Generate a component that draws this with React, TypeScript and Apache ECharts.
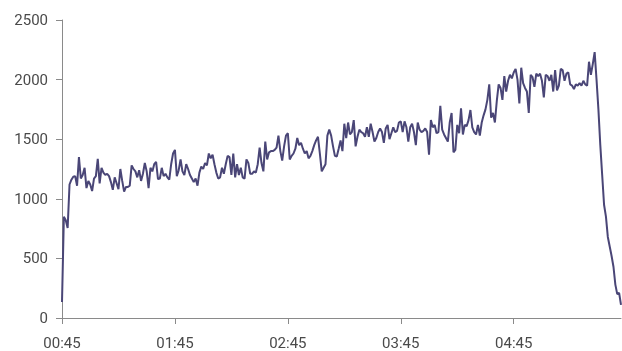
import React, { useEffect, useRef } from "react";
import * as echarts from "echarts";

// Start time of the series (seconds) and sampling step (seconds)
const startSeconds = 45;
const stepSeconds = 1;

// y-axis ticks
const yTicks = [0, 500, 1000, 1500, 2000, 2500];

// Series values (one sample per second)
const seg1 = [
  134, 850, 820, 755, 1120, 1160, 1185, 1190, 1110, 1350,
  1170, 1200, 1260, 1090, 1150, 1120, 1065, 1170, 1190, 1335,
  1130, 1260, 1220, 1200, 1210, 1190, 1140, 1075, 1180, 1130,
  1080, 1250, 1150, 1060, 1100, 1100, 1110, 1280, 1250, 1230,
  1180, 1240, 1150, 1210, 1300, 1230, 1090, 1260, 1230, 1290,
  1310, 1165, 1170, 1260, 1190, 1210, 1180, 1160, 1290, 1380,
];
const seg2 = [
  1410, 1190, 1240, 1330, 1230, 1200, 1290, 1250, 1200, 1170,
  1140, 1170, 1110, 1220, 1270, 1250, 1300, 1280, 1380, 1340,
  1370, 1290, 1220, 1170, 1180, 1260, 1210, 1290, 1360, 1350,
  1200, 1380, 1180, 1290, 1200, 1260, 1180, 1170, 1330, 1300,
  1210, 1210, 1230, 1220, 1290, 1430, 1300, 1230, 1480, 1330,
  1390, 1400, 1400, 1410, 1430, 1530, 1400, 1320, 1440, 1530,
];
const seg3 = [
  1550, 1330, 1360, 1380, 1420, 1510, 1450, 1470, 1420, 1380,
  1400, 1340, 1360, 1400, 1450, 1490, 1520, 1380, 1230, 1260,
  1290, 1530, 1580, 1530, 1440, 1360, 1355, 1420, 1490, 1400,
  1630, 1510, 1640, 1540, 1560, 1660, 1440, 1520, 1580, 1560,
  1550, 1520, 1600, 1520, 1630, 1560, 1480, 1510, 1560, 1590,
  1560, 1470, 1590, 1620, 1500, 1550, 1600, 1560, 1570, 1640,
];
const seg4 = [
  1650, 1560, 1650, 1600, 1480, 1600, 1630, 1560, 1450, 1640,
  1580, 1560, 1570, 1590, 1560, 1370, 1660, 1600, 1620, 1550,
  1560, 1780, 1580, 1540, 1510, 1480, 1640, 1720, 1390, 1410,
  1620, 1550, 1760, 1540, 1620, 1610, 1660, 1745, 1600, 1560,
  1540, 1620, 1530, 1640, 1700, 1750, 1830, 1960, 1680, 1720,
  1640, 1820, 1960, 1930, 1830, 2030, 1900, 1990, 2040, 2010,
];
const seg5 = [
  2060, 2090, 2000, 1800, 2100, 1970, 1930, 1900, 1720, 2040,
  2020, 1940, 2050, 2030, 2050, 1990, 1850, 2040, 2030, 1990,
  2040, 1900, 2080, 1910, 1950, 2090, 2080, 1990, 2050, 2060,
  1960, 1950, 1920, 1960, 1950, 1970, 1950, 1990, 1960, 1950,
  2150, 2040, 2130, 2230, 2000, 1750, 1450, 1200, 950, 850,
  680, 600, 520, 430, 280, 200, 210, 110,
];
const values = [...seg1, ...seg2, ...seg3, ...seg4, ...seg5];

const pad = (n: number) => (n < 10 ? "0" + n : "" + n);
const categories = values.map((_, i) => {
  const s = startSeconds + i * stepSeconds;
  return pad(Math.floor(s / 60)) + ":" + pad(s % 60);
});

export default function App() {
  const ref = useRef<HTMLDivElement>(null);
  useEffect(() => {
    if (!ref.current) return;
    const chart = echarts.init(ref.current, undefined, { renderer: "svg" });
    const font = "Roboto, 'Liberation Sans', Arial, sans-serif";
    chart.setOption({
      animation: false,
      grid: { left: 62, right: 1, top: 20, bottom: 33 },
      xAxis: {
        type: "category",
        data: categories,
        boundaryGap: false,
        axisLine: { lineStyle: { color: "#8a8a8a", width: 1 } },
        axisTick: { show: true, interval: 59, length: 6, lineStyle: { color: "#8a8a8a" } },
        axisLabel: {
          interval: 59,
          margin: 17,
          color: "#4a4a4a",
          fontSize: 15,
          fontFamily: font,
        },
        splitLine: { show: false },
      },
      yAxis: {
        type: "value",
        min: yTicks[0],
        max: yTicks[yTicks.length - 1],
        interval: 500,
        axisLine: { show: true, lineStyle: { color: "#8a8a8a", width: 1 } },
        axisTick: { show: true, length: 6, lineStyle: { color: "#8a8a8a" } },
        axisLabel: {
          margin: 14,
          color: "#4a4a4a",
          fontSize: 15,
          fontFamily: font,
          formatter: (v: number) => String(v),
        },
        splitLine: { show: false },
      },
      series: [
        {
          type: "line",
          data: values,
          showSymbol: false,
          symbol: "none",
          lineStyle: { color: "#4a4677", width: 2 },
        },
      ],
    });
    return () => chart.dispose();
  }, []);
  return (
    <div
      ref={ref}
      style={{ position: "fixed", left: 0, top: 0, width: 622, height: 351 }}
    />
  );
}
